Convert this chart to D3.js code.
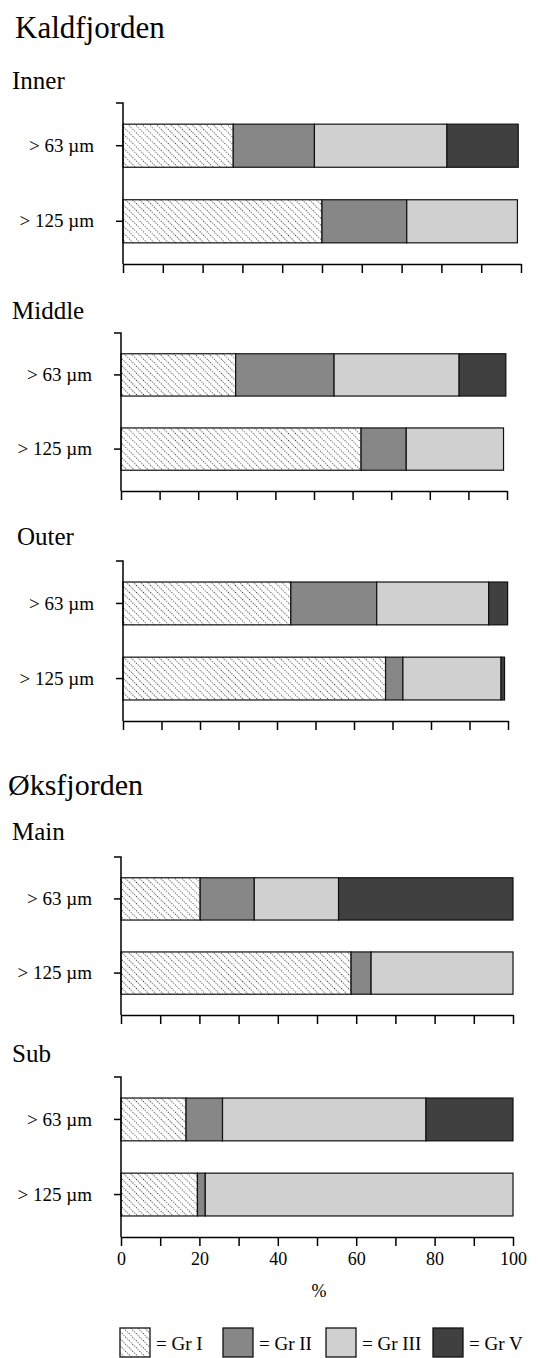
<!DOCTYPE html>
<html>
<head>
<meta charset="utf-8">
<script src="https://cdn.jsdelivr.net/npm/d3@7"></script>
<style>
  body { margin: 0; background: #fff; }
  svg text { font-family: "Liberation Serif", "Times New Roman", serif; fill: #000; }
</style>
</head>
<body>
<svg id="chart" width="538" height="1358"></svg>
<script>
// categories
const sizes = ['> 63 µm', '> 125 µm'];
const groups = ['Gr I', 'Gr II', 'Gr III', 'Gr V'];
const xTicks = d3.range(0, 101, 10);

// % per group (Gr I, Gr II, Gr III, Gr V) for > 63 µm and > 125 µm
const inner  = [[27.7, 20.4, 33.3, 17.9], [50.0, 21.3, 27.8, 0]];
const middle = [[29.7, 25.5, 32.4, 12.1], [62.2, 11.7, 25.2, 0]];
const outer  = [[43.6, 22.3, 29.1, 4.9],  [68.2, 4.5, 25.5, 0.9]];
const main   = [[20.2, 13.8, 21.5, 44.5], [58.7, 5.1, 36.2, 0]];
const sub    = [[16.6, 9.3, 51.9, 22.2],  [19.5, 2.0, 78.5, 0]];

const fills = ['url(#hatch)', '#878787', '#d0d0d0', '#404040'];

const panels = [
  { name: 'Inner',  values: inner,  top: 103,  bottom: 264,  x0: 123, x1: 521, tx: 12, ty: 89 },
  { name: 'Middle', values: middle, top: 333,  bottom: 491,  x0: 121, x1: 507, tx: 12, ty: 319 },
  { name: 'Outer',  values: outer,  top: 561,  bottom: 721,  x0: 123, x1: 508, tx: 17, ty: 545 },
  { name: 'Main',   values: main,   top: 857,  bottom: 1015, x0: 121, x1: 513, tx: 12, ty: 840 },
  { name: 'Sub',    values: sub,    top: 1077, bottom: 1237, x0: 121, x1: 513, tx: 12, ty: 1062 }
];

const svg = d3.select('#chart');

// dotted diagonal hatch for Gr I
const pat = svg.append('defs').append('pattern')
    .attr('id', 'hatch')
    .attr('patternUnits', 'userSpaceOnUse')
    .attr('width', 5)
    .attr('height', 5)
    .attr('patternTransform', 'rotate(-45)');
pat.append('rect').attr('width', 5).attr('height', 5).attr('fill', '#fff');
pat.append('line')
    .attr('x1', 2.5).attr('y1', 0).attr('x2', 2.5).attr('y2', 5)
    .attr('stroke', '#333')
    .attr('stroke-width', 1)
    .attr('stroke-dasharray', '1,1.5');

// fjord titles
svg.append('text').attr('x', 15).attr('y', 38).attr('font-size', 31).text('Kaldfjorden');
svg.append('text').attr('x', 8).attr('y', 795).attr('font-size', 30).text('Øksfjorden');

panels.forEach((p, pi) => {
  const last = pi === panels.length - 1;
  const x = d3.scaleLinear().domain([0, 100]).range([p.x0, p.x1]);
  const y = d3.scaleBand().domain(sizes).range([p.top, p.bottom])
      .paddingInner(0.43).paddingOuter(0.28);

  svg.append('text').attr('x', p.tx).attr('y', p.ty).attr('font-size', 25).text(p.name);

  const g = svg.append('g');

  sizes.forEach((s, si) => {
    const stack = d3.cumsum(p.values[si]);
    const segs = p.values[si].map((v, k) => ({ v, k, start: stack[k] - v, end: stack[k] }))
        .filter(d => d.v > 0);
    g.selectAll(null)
      .data(segs)
      .join('rect')
        .attr('x', d => x(d.start))
        .attr('y', y(s))
        .attr('width', d => x(d.end) - x(d.start))
        .attr('height', y.bandwidth())
        .attr('fill', d => fills[d.k])
        .attr('stroke', '#111')
        .attr('stroke-width', 1.2);
  });

  // category axis
  const yAxis = g.append('g')
      .attr('transform', `translate(${p.x0},0)`)
      .call(d3.axisLeft(y).tickSize(7).tickSizeOuter(0).tickPadding(22));
  yAxis.select('.domain').remove();
  yAxis.selectAll('.tick line').attr('stroke', '#000').attr('stroke-width', 1.5);
  yAxis.selectAll('.tick text').attr('font-size', 19).attr('font-family', '"Liberation Serif", serif');
  g.append('path')
      .attr('d', `M${p.x0 - 7},${p.top}H${p.x0}V${p.bottom}`)
      .attr('fill', 'none')
      .attr('stroke', '#000')
      .attr('stroke-width', 1.5);

  // value axis
  const xAxis = g.append('g')
      .attr('transform', `translate(0,${p.bottom})`)
      .call(d3.axisBottom(x).tickValues(xTicks).tickSize(9).tickSizeOuter(0).tickPadding(6)
        .tickFormat(d => (last && d % 20 === 0) ? d : ''));
  xAxis.select('.domain').attr('stroke', '#000').attr('stroke-width', 1.5);
  xAxis.selectAll('.tick line').attr('stroke', '#000').attr('stroke-width', 1.5);
  xAxis.selectAll('.tick text').attr('font-size', 18).attr('font-family', '"Liberation Serif", serif');

  if (last) {
    svg.append('text')
        .attr('x', (p.x0 + p.x1) / 2 + 2)
        .attr('y', 1297)
        .attr('text-anchor', 'middle')
        .attr('font-size', 18)
        .text('%');
  }
});

// legend
const legendX = [120, 223, 326, 433];
const legend = svg.append('g').selectAll('g')
  .data(groups)
  .join('g')
    .attr('transform', (d, i) => `translate(${legendX[i]},1328)`);
legend.append('rect')
    .attr('width', 30)
    .attr('height', 29)
    .attr('fill', (d, i) => fills[i])
    .attr('stroke', '#111')
    .attr('stroke-width', 1.3);
legend.append('text')
    .attr('x', 36)
    .attr('y', 22)
    .attr('font-size', 19)
    .text(d => '= ' + d);
</script>
</body>
</html>
